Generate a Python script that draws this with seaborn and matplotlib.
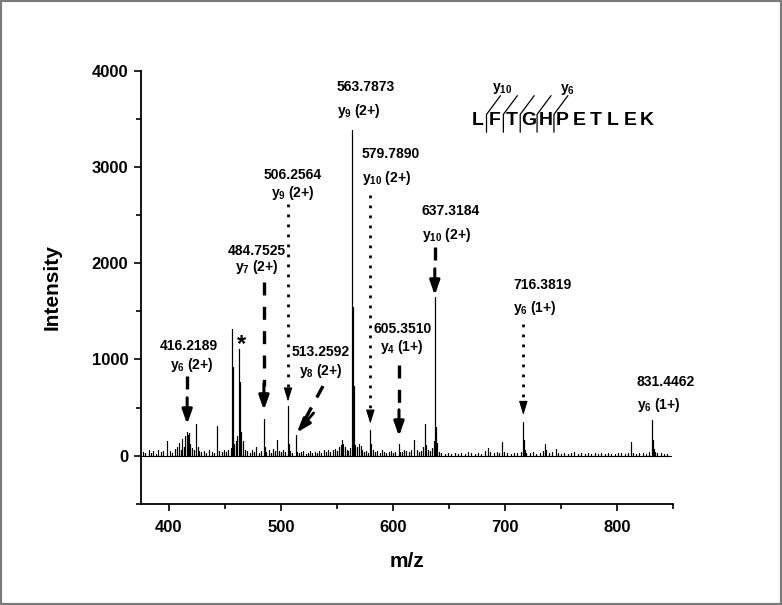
import numpy as np
import pandas as pd
import matplotlib
matplotlib.use('Agg')
import matplotlib.pyplot as plt
import seaborn as sns
from matplotlib.patches import Rectangle
from matplotlib.ticker import MultipleLocator

# ---- spectrum peaks (m/z, intensity) ----
mz = [377, 379, 382, 384, 386, 388, 390, 393, 395, 398, 401, 403, 405, 407, 409, 411, 412, 413.5, 414.5, 415.8,
      416.22, 417.3, 418.2, 419.2, 420.5, 422, 424.1, 425.5, 427, 429, 431, 433, 436, 438, 440, 442.9, 445, 447,
      449, 451, 453, 455, 456.3, 456.8, 458, 459.5, 461, 462.5, 463, 463.7, 464.5, 466, 468, 470, 472, 474, 476,
      478, 480, 482, 484.75, 485.3, 487, 489, 491, 493, 495, 496.1, 498, 500, 502, 504, 506.26, 506.8, 508, 510,
      513.26, 514.2, 516, 518, 520, 522, 524, 526, 528, 530, 532, 534, 536, 538, 540, 542, 544, 546, 548, 550,
      552, 553.5, 554.4, 555.5, 557, 558.5, 560, 562, 563.79, 564.29, 564.79, 565.3, 566.5, 568, 569.5, 571,
      572.5, 574, 576, 578, 579.79, 580.3, 582, 584, 586, 588, 590, 592, 594, 596, 598, 600, 602, 605.35, 606.5,
      608, 610, 612, 614, 616, 618.75, 621, 623, 625, 627, 628.6, 629.5, 631, 633, 635, 636.5, 637.32, 637.82,
      638.6, 639.4, 641, 643, 646, 649, 652, 655, 658, 661, 664, 667, 670, 673, 676, 679, 682, 684.5, 687, 690,
      693, 695, 697.6, 699, 702, 705, 708, 711, 714, 716.38, 717.0, 717.8, 719, 722, 725, 728, 731, 734, 735.7,
      737, 739, 742, 745.3, 747, 750, 753, 756, 759, 762, 765, 768, 771, 774, 777, 780, 783, 786, 789, 792, 795,
      798, 801, 804, 807, 810, 812.5, 814, 817, 820, 823, 826, 829, 831.45, 832.0, 832.8, 834, 836, 839, 842, 845]
intensity = [40, 25, 55, 30, 45, 20, 60, 35, 50, 150, 45, 30, 70, 95, 130, 60, 170, 90, 200, 230,
             250, 210, 240, 120, 80, 60, 334, 90, 50, 35, 45, 30, 55, 40, 25, 313, 50, 35,
             60, 40, 55, 80, 1313, 920, 120, 150, 200, 1105, 760, 480, 250, 150, 60, 45, 30, 55, 40,
             90, 30, 50, 376, 90, 40, 55, 30, 70, 45, 160, 50, 35, 60, 40, 515, 120, 45, 30,
             212, 40, 25, 35, 45, 20, 30, 50, 25, 40, 30, 45, 25, 55, 35, 60, 40, 55, 70, 45,
             90, 110, 160, 120, 90, 60, 45, 80, 3384, 1546, 720, 200, 110, 90, 120, 100,
             60, 40, 50, 30, 265, 120, 60, 35, 45, 30, 55, 40, 25, 35, 45, 30, 40, 126, 40,
             35, 60, 45, 35, 55, 160, 60, 40, 50, 90, 334, 110, 60, 45, 80, 150, 1647, 806,
             300, 130, 40, 25, 20, 30, 15, 25, 20, 30, 20, 35, 25, 15, 30, 20, 45, 80, 35, 25,
             40, 30, 143, 40, 25, 20, 30, 25, 40, 351, 160, 60, 30, 25, 35, 20, 30, 45, 119,
             60, 30, 40, 74, 30, 20, 30, 20, 25, 35, 20, 25, 15, 25, 20, 30, 15, 25, 20, 30, 15,
             20, 25, 30, 20, 25, 143, 30, 20, 25, 30, 20, 40, 369, 160, 70, 40, 25, 30, 20, 15]

# ---- annotated ions ----
ion_mz = [416.22, 484.75, 506.26, 513.26, 563.79, 579.79, 605.35, 637.32, 716.38, 831.45]
ion_mass = ['416.2189', '484.7525', '506.2564', '513.2592', '563.7873', '579.7890', '605.3510',
            '637.3184', '716.3819', '831.4462']
ion_name = [r'$y_{6}$ (2+)', r'$y_{7}$ (2+)', r'$y_{9}$ (2+)', r'$y_{8}$ (2+)', r'$y_{9}$ (2+)',
            r'$y_{10}$ (2+)', r'$y_{4}$ (1+)', r'$y_{10}$ (2+)', r'$y_{6}$ (1+)', r'$y_{6}$ (1+)']
ion_arrow = ['dash', 'dash', 'dot', 'diag', None, 'dot', 'dash', 'dash', 'dot', None]

sequence = list('LFTGHPETLEK')

# ---- layout (positions in data units) ----
mass_xy = [(418, 1140, 'center'), (478, 2129, 'center'), (510, 2914, 'center'), (535, 1077, 'center'),
           (550, 3827, 'left'), (572, 3129, 'left'), (608.5, 1317, 'center'), (625.6, 2546, 'left'),
           (707.4, 1775, 'left'), (817.6, 768, 'left')]
name_xy = [(420.5, 942), (478, 1956), (511, 2733), (536, 882), (550, 3577), (572, 2886), (608, 1132),
           (625.6, 2296), (707.4, 1532), (817.6, 525)]
arrow_top = [827, 1806, 2612, 723, None, 2712, 942, 2171, 1369, None]
arrow_gap = [77, 97, 46, 30, None, 66, 76, 20, 70, None]

sns.set_theme(style='ticks')
plt.rcParams['font.family'] = ['Liberation Sans', 'DejaVu Sans']
plt.rcParams['font.weight'] = 'bold'
plt.rcParams['mathtext.fontset'] = 'custom'
plt.rcParams['mathtext.rm'] = 'Liberation Sans:bold'
plt.rcParams['mathtext.it'] = 'Liberation Sans:bold'
plt.rcParams['mathtext.bf'] = 'Liberation Sans:bold'
for key in ['text.color', 'axes.labelcolor', 'xtick.color', 'ytick.color', 'axes.edgecolor']:
    plt.rcParams[key] = 'black'

fig = plt.figure(figsize=(7.82, 6.05), dpi=100)
ax = fig.add_axes([0.1803, 0.1673, 0.6803, 0.716])

# stick spectrum: each peak goes 0 -> h -> 0
order = np.argsort(mz)
pk_x = np.asarray(mz, float)[order]
pk_y = np.asarray(intensity, float)[order]
xs = np.concatenate([[375], np.repeat(pk_x, 3), [848]])
ys = np.concatenate([[0], np.column_stack([np.zeros_like(pk_y), pk_y, np.zeros_like(pk_y)]).ravel(), [0]])
spec = pd.DataFrame({'mz': xs, 'Intensity': ys})
sns.lineplot(data=spec, x='mz', y='Intensity', sort=False, estimator=None, color='black', lw=0.8, ax=ax)

peak_h = dict(zip(mz, intensity))

fs = 10
for i, m in enumerate(ion_mz):
    mx, my, ha = mass_xy[i]
    nx, ny = name_xy[i]
    ax.text(mx, my, ion_mass[i], ha=ha, va='center', fontsize=fs, fontweight='bold')
    ax.text(nx, ny, ion_name[i], ha=ha, va='center', fontsize=fs, fontweight='bold')
    style = ion_arrow[i]
    if style is None:
        continue
    tip = peak_h[m] + arrow_gap[i]
    top = arrow_top[i]
    if style == 'dash':
        ax.plot([m, m], [top, tip + 250], color='black', lw=2.4, ls=(0, (3.9, 3.4)), solid_capstyle='butt')
        ax.annotate('', xy=(m, tip), xytext=(0, 19), textcoords='offset points',
                    arrowprops=dict(arrowstyle='-|>,head_length=0.85,head_width=0.3', mutation_scale=10,
                                    fc='black', ec='black', lw=2.2, shrinkA=0, shrinkB=0))
    elif style == 'dot':
        ax.plot([m, m], [top, tip + 110], color='black', lw=2.0, ls=(0, (1, 2.6)))
        ax.annotate('', xy=(m, tip), xytext=(0, 9), textcoords='offset points',
                    arrowprops=dict(arrowstyle='-|>,head_length=0.85,head_width=0.26', mutation_scale=10,
                                    fc='black', ec='black', lw=0.8, shrinkA=0, shrinkB=0))
    else:
        x0, tx, ty = 537.5, m + 1.0, tip
        ax.plot([x0, tx + 6.5], [top, ty + 120], color='black', lw=2.4, ls=(0, (3.9, 3.4)))
        ax.annotate('', xy=(tx, ty), xytext=(12, 14), textcoords='offset points',
                    arrowprops=dict(arrowstyle='-|>,head_length=0.85,head_width=0.3', mutation_scale=10,
                                    fc='black', ec='black', lw=2.0, shrinkA=0, shrinkB=0))

ax.text(464.3, 1150, '*', ha='center', va='center', fontsize=17, fontweight='bold')

# peptide sequence with fragment marks
seq_y = 3478
for k, aa in enumerate(sequence):
    ax.text(676 + k * 15.05, seq_y, aa, ha='center', va='center', fontsize=14, fontweight='bold')
for k in range(5):
    cx = 683.5 + k * 15.05
    ax.plot([cx, cx, cx + 12.5], [3360, 3545, 3740], color='black', lw=0.9)
ax.text(697, 3813, r'$y_{10}$', ha='center', va='center', fontsize=fs, fontweight='bold')
ax.text(756, 3803, r'$y_{6}$', ha='center', va='center', fontsize=fs, fontweight='bold')

ax.set_xlim(375, 850)
ax.set_ylim(-500, 4000)
ax.set_xticks([400, 500, 600, 700, 800])
ax.set_yticks([0, 1000, 2000, 3000, 4000])
ax.xaxis.set_minor_locator(MultipleLocator(50))
ax.yaxis.set_minor_locator(MultipleLocator(500))
ax.tick_params(which='major', length=5, width=1.2, labelsize=12, pad=4, color='black', labelcolor='black')
ax.tick_params(which='minor', length=3.5, width=1.2, color='black')
ax.tick_params(axis='x', pad=7)
for lab in ax.get_xticklabels() + ax.get_yticklabels():
    lab.set_fontweight('bold')
sns.despine(ax=ax)
for s in ['left', 'bottom']:
    ax.spines[s].set_linewidth(1.3)
    ax.spines[s].set_color('black')
ax.set_xlabel('m/z', fontsize=15, fontweight='bold', labelpad=12)
ax.set_ylabel('Intensity', fontsize=15, fontweight='bold', labelpad=22)
ax.grid(False)

fig.add_artist(Rectangle((0, 0), 1, 1, transform=fig.transFigure, fill=False, ec='#7a7a7a', lw=3))

fig.savefig('out.png', dpi=100, facecolor='white')
